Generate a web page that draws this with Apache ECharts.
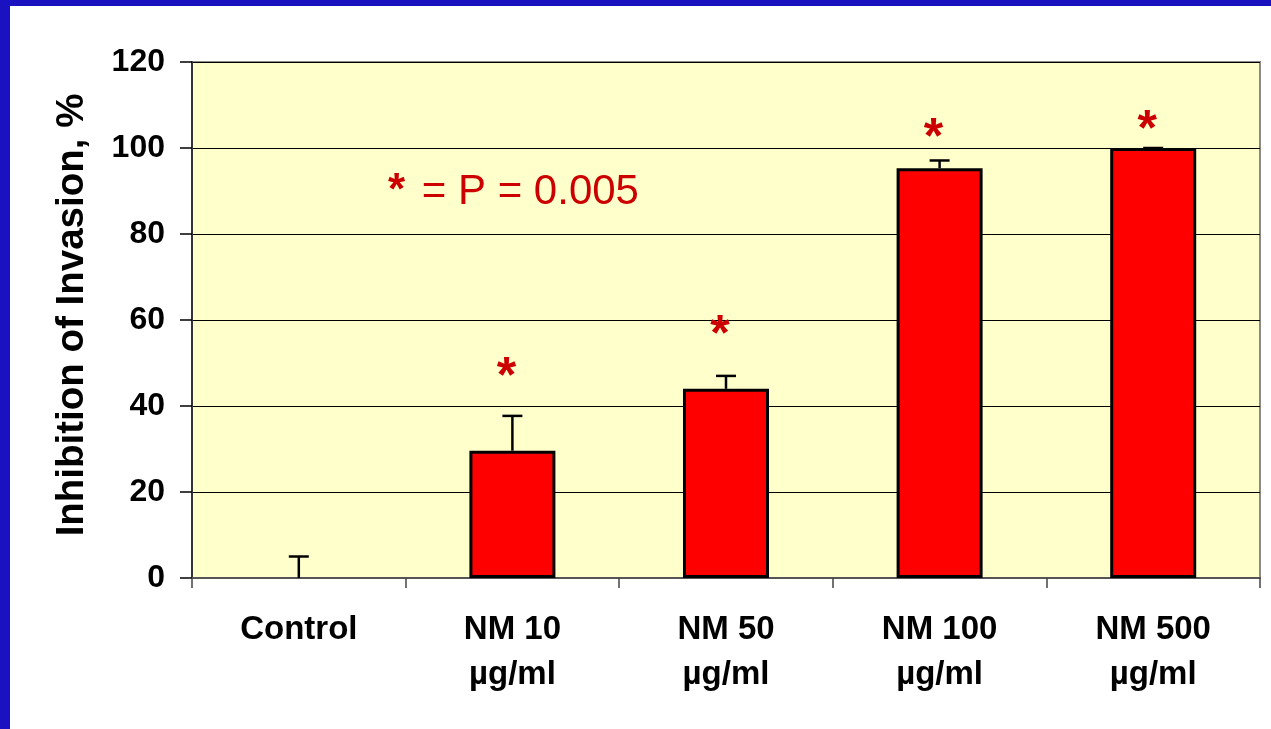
<!DOCTYPE html>
<html>
<head>
<meta charset="utf-8">
<title>Inhibition of Invasion</title>
<script src="https://cdn.jsdelivr.net/npm/echarts@6/dist/echarts.min.js"></script>
<style>
  html, body { margin: 0; padding: 0; background: #fff; }
  #wrap { position: relative; width: 1271px; height: 729px; overflow: hidden; background: #fff; }
  .edge { position: absolute; background: #1a12c0; }
  #chart { position: absolute; left: 0; top: 0; width: 1271px; height: 729px; }
</style>
</head>
<body>
<div id="wrap">
  <div id="chart"></div>
  <div class="edge" style="left:0;top:0;width:1271px;height:6px"></div>
  <div class="edge" style="left:0;top:0;width:10px;height:729px"></div>
</div>
<script>
// values
const categories = ['Control', 'NM 10\nµg/ml', 'NM 50\nµg/ml', 'NM 100\nµg/ml', 'NM 500\nµg/ml'];
const inhibition = [0, 29.6, 44, 95.3, 100];
const errorPlus = [5, 8.1, 3, 1.8, 0];
const starLevel = [null, 48.8, 58.6, 104.4, 106.2];
const yTicks = { min: 0, max: 120, step: 20 };

const font = 'Arial, "Liberation Sans", Helvetica, sans-serif';
const starRed = '#cc0000';

const myChart = echarts.init(document.getElementById('chart'));

const option = {
  animation: false,
  backgroundColor: 'transparent',
  grid: {
    left: 192,
    right: 11,
    top: 62,
    bottom: 151,
    show: true,
    backgroundColor: '#ffffcc',
    borderColor: '#8a8a8a',
    borderWidth: 2
  },
  xAxis: {
    type: 'category',
    data: categories,
    axisLine: { lineStyle: { color: '#555', width: 2 } },
    axisTick: { show: true, alignWithLabel: false, length: 10, lineStyle: { color: '#444', width: 1.5 } },
    axisLabel: {
      color: '#000',
      fontFamily: font,
      fontWeight: 'bold',
      fontSize: 33,
      lineHeight: 45,
      margin: 29
    }
  },
  yAxis: {
    type: 'value',
    min: yTicks.min,
    max: yTicks.max,
    interval: yTicks.step,
    name: 'Inhibition of Invasion, %',
    nameLocation: 'middle',
    nameRotate: 90,
    nameGap: 100,
    nameTextStyle: { color: '#000', fontFamily: font, fontWeight: 'bold', fontSize: 38.5, padding: [0, 0, 0, 10] },
    axisLine: { show: true, lineStyle: { color: '#333', width: 2 } },
    axisTick: { show: true, length: 12, lineStyle: { color: '#000', width: 1.5 } },
    axisLabel: { color: '#000', fontFamily: font, fontWeight: 'bold', fontSize: 32, margin: 27 },
    splitLine: { show: true, lineStyle: { color: '#000', width: 1 } }
  },
  graphic: [
    {
      type: 'text',
      left: 388,
      top: 170,
      style: {
        text: '{a|*}{b| = P = 0.005}',
        rich: {
          a: { fontFamily: font, fontWeight: 'bold', fontSize: 44, fill: starRed, padding: [0, 5, 0, 0] },
          b: { fontFamily: font, fontSize: 42, fill: starRed }
        }
      }
    }
  ],
  series: [
    {
      name: 'Inhibition',
      type: 'bar',
      // a zero bar gets no outline, as in the picture
      data: inhibition.map(v => (v === 0 ? { value: v, itemStyle: { borderWidth: 0 } } : v)),
      barWidth: 86,
      itemStyle: { color: '#ff0000', borderColor: '#000', borderWidth: 3 },
      z: 2
    },
    {
      name: 'error',
      type: 'custom',
      z: 3,
      data: inhibition.map((v, i) => [i, v, v + errorPlus[i]]),
      renderItem(params, api) {
        const base = api.coord([api.value(0), api.value(1)]);
        const top = api.coord([api.value(0), api.value(2)]);
        const half = 10;
        return {
          type: 'group',
          children: [
            { type: 'line', shape: { x1: base[0], y1: base[1], x2: top[0], y2: top[1] }, style: { stroke: '#000', lineWidth: 2.5 } },
            { type: 'line', shape: { x1: top[0] - half, y1: top[1], x2: top[0] + half, y2: top[1] }, style: { stroke: '#000', lineWidth: 2.5 } }
          ]
        };
      }
    },
    {
      name: 'significance',
      type: 'scatter',
      symbolSize: 0,
      z: 4,
      itemStyle: { opacity: 1 },
      data: starLevel.map((v, i) => (v == null ? null : [i, v])),
      label: {
        show: true,
        position: 'inside',
        formatter: '*',
        offset: [-6, 10],
        color: starRed,
        fontFamily: font,
        fontWeight: 'bold',
        fontSize: 50
      }
    }
  ]
};

myChart.setOption(option);
</script>
</body>
</html>
